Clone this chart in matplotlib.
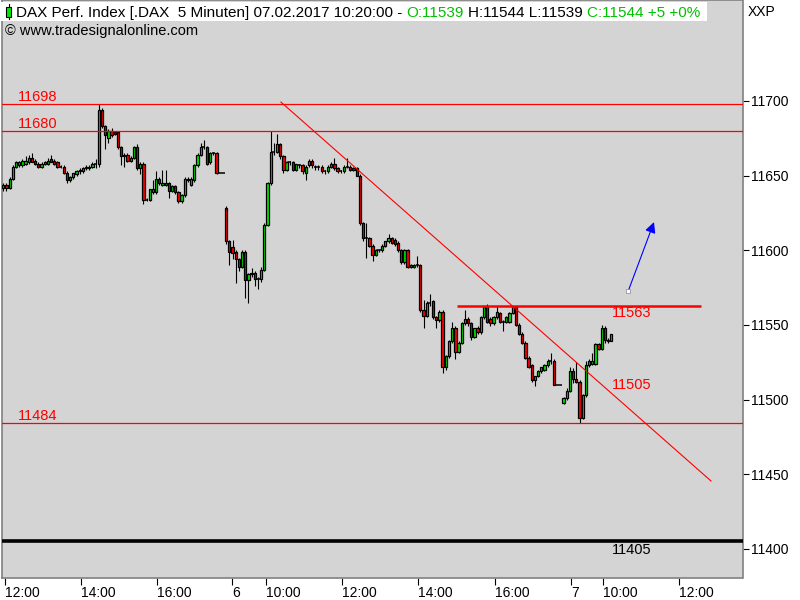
import matplotlib
matplotlib.use("Agg")
import matplotlib.pyplot as plt
from matplotlib.patches import Rectangle
from matplotlib.text import Annotation
import numpy as np

plt.rcParams['font.family'] = ['Liberation Sans', 'DejaVu Sans']

# DAX 5 minute bars: 06.02 12:00-17:45, 07.02 (label "6") 09:00-17:45, 08.02 (label "7") 09:00-10:15
d1_open = [11642, 11644, 11642, 11648, 11656, 11657, 11657, 11658, 11659, 11662,
           11660, 11658, 11656, 11658, 11658, 11661, 11660, 11659, 11656, 11656,
           11652, 11647, 11649, 11651, 11653, 11653, 11655, 11655, 11656, 11658,
           11658, 11694, 11683, 11675, 11680, 11679, 11679, 11669, 11664, 11664,
           11660, 11662, 11669, 11655, 11658, 11634, 11634, 11639, 11639, 11648,
           11644, 11644, 11645, 11640, 11643, 11639, 11633, 11637, 11648, 11644,
           11647, 11657, 11664, 11669, 11669, 11659, 11665, 11665, 11652, 11652]
d1_high = [11645, 11645, 11649, 11657, 11660, 11660, 11661, 11663, 11664, 11665,
           11661, 11659, 11659, 11660, 11662, 11664, 11661, 11660, 11657, 11657,
           11653, 11650, 11652, 11654, 11655, 11656, 11657, 11657, 11659, 11661,
           11698, 11695, 11684, 11681, 11682, 11680, 11680, 11670, 11665, 11665,
           11663, 11670, 11671, 11659, 11659, 11635, 11641, 11647, 11653, 11649,
           11654, 11654, 11646, 11644, 11644, 11640, 11638, 11649, 11649, 11649,
           11658, 11665, 11672, 11674, 11670, 11666, 11666, 11666, 11652, 11652]
d1_low = [11640, 11640, 11641, 11647, 11655, 11656, 11656, 11657, 11658, 11659,
          11657, 11655, 11655, 11657, 11657, 11659, 11657, 11655, 11655, 11651,
          11645, 11646, 11648, 11650, 11651, 11652, 11654, 11654, 11655, 11655,
          11656, 11682, 11668, 11672, 11676, 11677, 11668, 11657, 11656, 11659,
          11659, 11661, 11654, 11651, 11631, 11633, 11633, 11638, 11638, 11644,
          11643, 11643, 11635, 11639, 11638, 11632, 11632, 11636, 11646, 11643,
          11646, 11656, 11663, 11668, 11657, 11658, 11664, 11651, 11652, 11652]
d1_close = [11644, 11642, 11648, 11656, 11659, 11659, 11660, 11660, 11662, 11659,
            11658, 11656, 11658, 11659, 11660, 11659, 11658, 11656, 11656, 11652,
            11647, 11649, 11652, 11653, 11654, 11655, 11656, 11656, 11658, 11658,
            11694, 11683, 11677, 11680, 11677, 11678, 11669, 11663, 11663, 11660,
            11662, 11669, 11655, 11658, 11634, 11634, 11641, 11641, 11648, 11645,
            11645, 11645, 11640, 11643, 11639, 11633, 11637, 11648, 11647, 11648,
            11657, 11664, 11669, 11669, 11658, 11665, 11665, 11652, 11652, 11652]

d2_open = [11628, 11606, 11602, 11599, 11594, 11589, 11599, 11580, 11584, 11585,
           11581, 11581, 11587, 11617, 11645, 11666, 11666, 11671, 11663, 11654,
           11659, 11659, 11654, 11657, 11657, 11652, 11657, 11660, 11656, 11656,
           11656, 11653, 11653, 11656, 11658, 11655, 11653, 11653, 11656, 11656,
           11655, 11655, 11650, 11618, 11608, 11608, 11603, 11597, 11600, 11600,
           11603, 11606, 11608, 11607, 11605, 11600, 11592, 11600, 11589, 11589,
           11590, 11590, 11560, 11556, 11565, 11566, 11555, 11553, 11559, 11522,
           11529, 11539, 11548, 11532, 11538, 11551, 11554, 11551, 11542, 11548,
           11545, 11555, 11563, 11554, 11551, 11555, 11558, 11552, 11552, 11552,
           11558, 11562, 11550, 11544, 11538, 11528, 11523, 11513, 11516, 11519,
           11520, 11523, 11526, 11526, 11510, 11510]
d2_high = [11630, 11607, 11607, 11600, 11595, 11600, 11600, 11585, 11588, 11586,
           11582, 11589, 11618, 11646, 11680, 11672, 11678, 11672, 11664, 11660,
           11660, 11660, 11658, 11658, 11658, 11657, 11661, 11661, 11657, 11657,
           11657, 11654, 11657, 11659, 11662, 11656, 11654, 11657, 11662, 11657,
           11656, 11656, 11651, 11619, 11618, 11609, 11604, 11601, 11601, 11604,
           11606, 11611, 11609, 11608, 11606, 11601, 11601, 11601, 11591, 11591,
           11596, 11591, 11567, 11566, 11571, 11567, 11556, 11560, 11560, 11530,
           11540, 11552, 11549, 11539, 11552, 11560, 11555, 11552, 11548, 11549,
           11556, 11563, 11564, 11555, 11556, 11563, 11559, 11553, 11556, 11559,
           11563, 11563, 11551, 11545, 11539, 11529, 11524, 11516, 11520, 11522,
           11524, 11527, 11531, 11527, 11510, 11510]
d2_low = [11604, 11590, 11594, 11578, 11586, 11588, 11568, 11565, 11582, 11576,
          11574, 11579, 11586, 11616, 11644, 11664, 11665, 11661, 11652, 11653,
          11657, 11653, 11653, 11655, 11651, 11647, 11656, 11655, 11654, 11654,
          11652, 11651, 11652, 11655, 11654, 11652, 11652, 11652, 11655, 11653,
          11653, 11650, 11617, 11606, 11595, 11602, 11593, 11596, 11599, 11599,
          11602, 11605, 11604, 11603, 11599, 11591, 11591, 11588, 11588, 11588,
          11589, 11559, 11548, 11555, 11563, 11554, 11548, 11552, 11518, 11520,
          11528, 11538, 11527, 11531, 11537, 11550, 11549, 11540, 11541, 11544,
          11544, 11554, 11551, 11549, 11550, 11554, 11551, 11546, 11551, 11551,
          11557, 11549, 11543, 11537, 11527, 11521, 11512, 11509, 11515, 11518,
          11519, 11522, 11524, 11510, 11510, 11510]
d2_close = [11606, 11599, 11598, 11594, 11589, 11599, 11580, 11584, 11585, 11581,
            11581, 11587, 11617, 11645, 11666, 11666, 11671, 11663, 11654, 11659,
            11659, 11654, 11658, 11657, 11653, 11656, 11660, 11657, 11656, 11656,
            11653, 11653, 11656, 11658, 11655, 11653, 11653, 11656, 11656, 11654,
            11654, 11650, 11618, 11608, 11608, 11603, 11597, 11600, 11600, 11603,
            11606, 11608, 11605, 11604, 11600, 11592, 11600, 11589, 11590, 11590,
            11590, 11560, 11556, 11565, 11565, 11555, 11553, 11559, 11522, 11529,
            11539, 11548, 11532, 11538, 11551, 11554, 11551, 11542, 11548, 11545,
            11555, 11563, 11552, 11551, 11555, 11559, 11552, 11552, 11555, 11558,
            11562, 11550, 11544, 11538, 11528, 11522, 11513, 11516, 11519, 11522,
            11523, 11526, 11526, 11510, 11510, 11510]

d3_open = [11498, 11501, 11506, 11519, 11514, 11512, 11488, 11503,
           11523, 11524, 11524, 11537, 11534, 11548, 11539, 11539]
d3_high = [11502, 11508, 11522, 11521, 11525, 11513, 11504, 11526,
           11527, 11531, 11538, 11538, 11550, 11549, 11541, 11544]
d3_low = [11497, 11500, 11505, 11511, 11511, 11484, 11487, 11502,
          11522, 11523, 11523, 11533, 11533, 11538, 11538, 11539]
d3_close = [11501, 11506, 11519, 11514, 11512, 11488, 11503, 11523,
            11526, 11526, 11537, 11534, 11548, 11540, 11540, 11544]

tick_pos = [0.4, 24.4, 48.4, 71.9, 82.4, 106.4, 130.4, 154.4, 178.4, 188.4, 212.4]
tick_labels = ['12:00', '14:00', '16:00', '6', '10:00', '12:00', '14:00', '16:00', '7', '10:00', '12:00']

levels = [11698, 11680, 11484]
resistance = 11563
bottom_level = 11405
note_level = 11505
trend_x = [87.2, 222.3]
trend_y = [11699.3, 11445.5]
arrow_from = (196.3, 11572.7)
arrow_to = (204.4, 11618.9)

RED = '#ff0000'
GREEN = '#00e800'

o = np.array(d1_open + d2_open + d3_open, dtype=float)
h = np.array(d1_high + d2_high + d3_high, dtype=float)
l = np.array(d1_low + d2_low + d3_low, dtype=float)
c = np.array(d1_close + d2_close + d3_close, dtype=float)
x = np.arange(len(o))

fig = plt.figure(figsize=(8, 6), dpi=100, facecolor='white')
ax = fig.add_axes([1.5 / 800, 22 / 600, 741 / 800, 578 / 600])
ax.set_facecolor('#d4d4d4')

# candles
ax.vlines(x, l, h, color='black', lw=0.8, zorder=2)
up = c > o
dn = c < o
fl = c == o
ax.bar(x[up], (c - o)[up], bottom=o[up], width=0.72, color=GREEN,
       edgecolor='black', linewidth=0.9, zorder=3)
ax.bar(x[dn], (c - o)[dn], bottom=o[dn], width=0.72, color=RED,
       edgecolor='black', linewidth=0.9, zorder=3)
ax.hlines(c[fl], x[fl] - 0.5, x[fl] + 0.5, color='black', lw=1.1, zorder=3)

# drawings
for lv in levels:
    ax.axhline(lv, color=RED, lw=0.9, zorder=4)
    ax.text(4.6, lv + 2, str(lv), color=RED, fontsize=10.5, va='baseline', zorder=5)
ax.hlines(resistance, 142.5, 219.2, color=RED, lw=1.8, zorder=4)
ax.text(191.2, resistance - 8, str(resistance), color=RED, fontsize=10.5, va='baseline', zorder=5)
ax.text(191.2, note_level + 2, str(note_level), color=RED, fontsize=10.5, va='baseline', zorder=5)
ax.axhline(bottom_level, color='black', lw=2.6, zorder=4)
ax.text(191.2, bottom_level - 8.5, str(bottom_level), color='black', fontsize=10.5,
        va='baseline', zorder=5)
ax.plot(trend_x, trend_y, color=RED, lw=0.8, zorder=4)
ax.annotate('', xy=arrow_to, xytext=arrow_from,
            arrowprops=dict(arrowstyle='-|>', color='#0000ff', lw=0.8,
                            mutation_scale=16, shrinkA=0, shrinkB=0), zorder=5)
ax.plot(*arrow_from, marker='s', ms=2.5, mfc='white', mec='#888888', mew=0.5, zorder=6)

ax.set_xlim(-0.57, 232.2)
ax.set_ylim(11380.5, 11767.65)

ax.yaxis.tick_right()
ax.set_yticks(np.arange(11400, 11701, 50))
ax.set_yticklabels([str(v) for v in range(11400, 11701, 50)])
ax.tick_params(axis='y', direction='out', length=4, width=0.8, pad=2, labelsize=10)
ax.set_xticks(tick_pos)
ax.set_xticklabels(tick_labels, ha='left')
ax.tick_params(axis='x', direction='out', length=5, width=0.8, pad=1, labelsize=10)
for s in ax.spines.values():
    s.set_color('#808080')
    s.set_linewidth(1.2)

# header
fig.add_artist(Rectangle((0, 1 - 21 / 600), 707 / 800, 19 / 600, transform=fig.transFigure,
                         facecolor='white', edgecolor='none', zorder=2))
fig.add_artist(Rectangle((6 / 800, 1 - 17 / 600), 5 / 800, 10 / 600, transform=fig.transFigure,
                         facecolor=GREEN, edgecolor='black', lw=0.8, zorder=3))
fig.add_artist(plt.Line2D([8.5 / 800, 8.5 / 800], [1 - 19 / 600, 1 - 4 / 600],
                          transform=fig.transFigure, color='black', lw=0.8, zorder=2.5))
t1 = fig.text(16 / 800, 1 - 17 / 600, 'DAX Perf. Index [.DAX  5 Minuten] 07.02.2017 10:20:00 -',
              fontsize=11, va='baseline', zorder=3)
prev = t1
for part, col in [('O:11539', '#00c000'), ('H:11544 L:11539', 'black'), ('C:11544 +5 +0%', '#00c000')]:
    a = Annotation(part, xy=(1, 0), xycoords=prev, xytext=(3, 0), textcoords='offset points',
                   fontsize=11, color=col, va='bottom', ha='left', zorder=3)
    fig.add_artist(a)
    prev = a
fig.text(5 / 800, 1 - 35 / 600, '\u00a9 www.tradesignalonline.com', fontsize=10.5,
         va='baseline', zorder=3)
fig.text(748 / 800, 1 - 16 / 600, 'XXP', fontsize=10, va='baseline')

fig.savefig('out.png', dpi=100, facecolor='white')
